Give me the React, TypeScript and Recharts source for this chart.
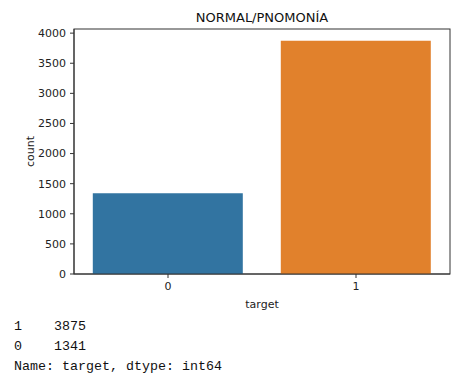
import { BarChart, Bar, XAxis, YAxis, Cell, usePlotArea } from 'recharts';

const categories = ['0', '1'];
const counts = [1341, 3875];
const yTicks = [0, 500, 1000, 1500, 2000, 2500, 3000, 3500, 4000];
const barColors = ['#3274a1', '#e1812c'];
const printedLines = ['1    3875', '0    1341', 'Name: target, dtype: int64'];

const data = categories.map((c, i) => ({ target: c, count: counts[i] }));

const tickStyle = { fill: '#222', fontSize: 11, fontFamily: 'DejaVu Sans' };

// matplotlib-style box around the plot area
function Frame() {
  const area = usePlotArea();
  if (!area) return null;
  return <rect x={area.x} y={area.y} width={area.width} height={area.height} fill="none" stroke="#333" />;
}

export default function App() {
  return (
    <div style={{ position: 'absolute', left: 0, top: 0, width: 457, height: 377, background: '#fff' }}>
      <div
        style={{
          position: 'absolute',
          left: 74,
          width: 376,
          top: 10,
          textAlign: 'center',
          fontFamily: 'DejaVu Sans',
          fontSize: 13,
          color: '#111',
        }}
      >
        NORMAL/PNOMONÍA
      </div>
      <BarChart
        width={457}
        height={312}
        data={data}
        margin={{ top: 29, right: 7, left: 30, bottom: 4 }}
        barCategoryGap="10%"
        style={{ position: 'absolute', left: 0, top: 0 }}
      >
        <XAxis
          dataKey="target"
          height={34}
          stroke="#333"
          tickSize={4}
          tickMargin={4}
          tick={tickStyle}
          label={{ value: 'target', position: 'insideBottom', offset: 0, fill: '#222', fontSize: 11, fontFamily: 'DejaVu Sans' }}
        />
        <YAxis
          width={44}
          domain={[0, 4068.75]}
          ticks={yTicks}
          allowDataOverflow
          stroke="#333"
          tickSize={4}
          tickMargin={4}
          tick={tickStyle}
          label={{ value: 'count', angle: -90, position: 'center', dx: -22, fill: '#222', fontSize: 11, fontFamily: 'DejaVu Sans' }}
        />
        <Bar dataKey="count" isAnimationActive={false}>
          {data.map((d, i) => (
            <Cell key={d.target} fill={barColors[i]} />
          ))}
        </Bar>
        <Frame />
      </BarChart>
      <pre
        style={{
          position: 'absolute',
          left: 14,
          top: 317,
          margin: 0,
          fontFamily: 'Liberation Mono',
          fontSize: 13.33,
          lineHeight: '20px',
          color: '#111',
        }}
      >
        {printedLines.join('\n')}
      </pre>
    </div>
  );
}
